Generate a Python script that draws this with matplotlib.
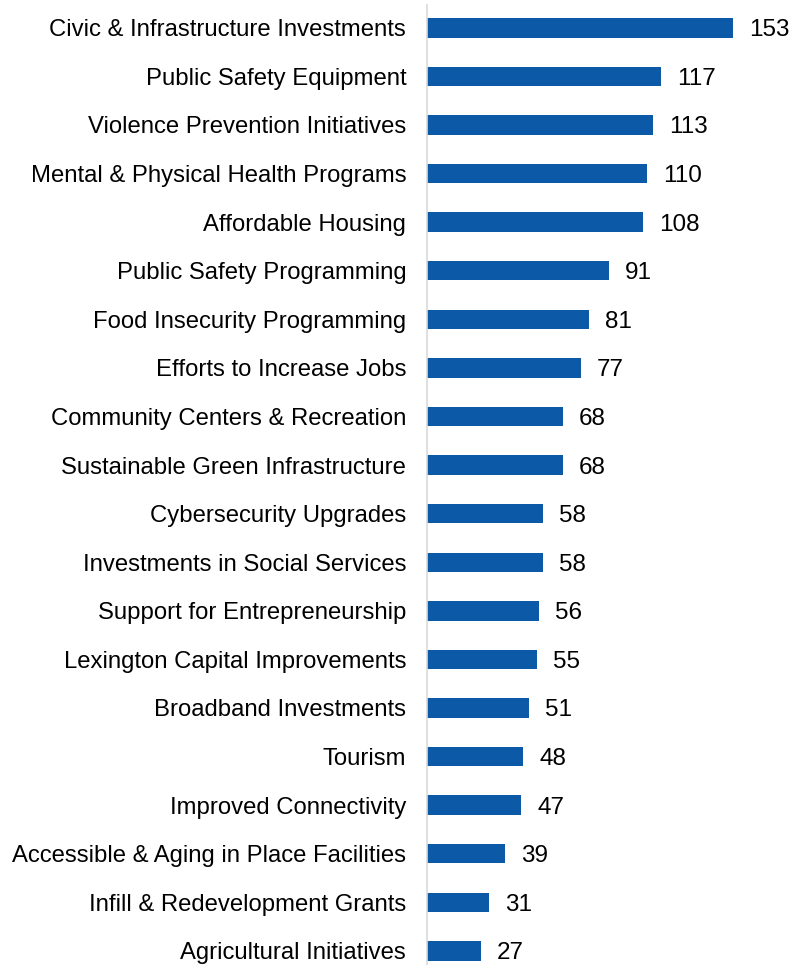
import matplotlib.pyplot as plt

plt.rcParams['font.family'] = ['Liberation Sans', 'DejaVu Sans']

categories = [
    "Civic & Infrastructure Investments",
    "Public Safety Equipment",
    "Violence Prevention Initiatives",
    "Mental & Physical Health Programs",
    "Affordable Housing",
    "Public Safety Programming",
    "Food Insecurity Programming",
    "Efforts to Increase Jobs",
    "Community Centers & Recreation",
    "Sustainable Green Infrastructure",
    "Cybersecurity Upgrades",
    "Investments in Social Services",
    "Support for Entrepreneurship",
    "Lexington Capital Improvements",
    "Broadband Investments",
    "Tourism",
    "Improved Connectivity",
    "Accessible & Aging in Place Facilities",
    "Infill & Redevelopment Grants",
    "Agricultural Initiatives",
]
counts = [153, 117, 113, 110, 108, 91, 81, 77, 68, 68,
          58, 58, 56, 55, 51, 48, 47, 39, 31, 27]

W, H = 790, 965
fig = plt.figure(figsize=(W / 100, H / 100), dpi=100)
ax = fig.add_axes([427 / W, 0, (W - 427) / W, 1 - 5 / H])

pos = list(range(len(categories)))
ax.barh(pos, counts, height=0.40, color="#0B59A7")
for p, v in zip(pos, counts):
    ax.text(v + 8, p, str(v), va="center_baseline", ha="left",
            fontsize=17.5, color="#000000")

ax.set_xlim(0, (W - 427) / 2)
ax.set_ylim(19.29, -0.47)
ax.set_yticks(pos)
ax.set_yticklabels(categories, fontsize=17.2, va="center_baseline")
ax.tick_params(axis="y", length=0, pad=15)
ax.set_xticks([])
for s in ["top", "right", "bottom"]:
    ax.spines[s].set_visible(False)
ax.spines["left"].set_color("#D9D9D9")
ax.spines["left"].set_linewidth(1.2)

fig.savefig("out.png", dpi=100)
